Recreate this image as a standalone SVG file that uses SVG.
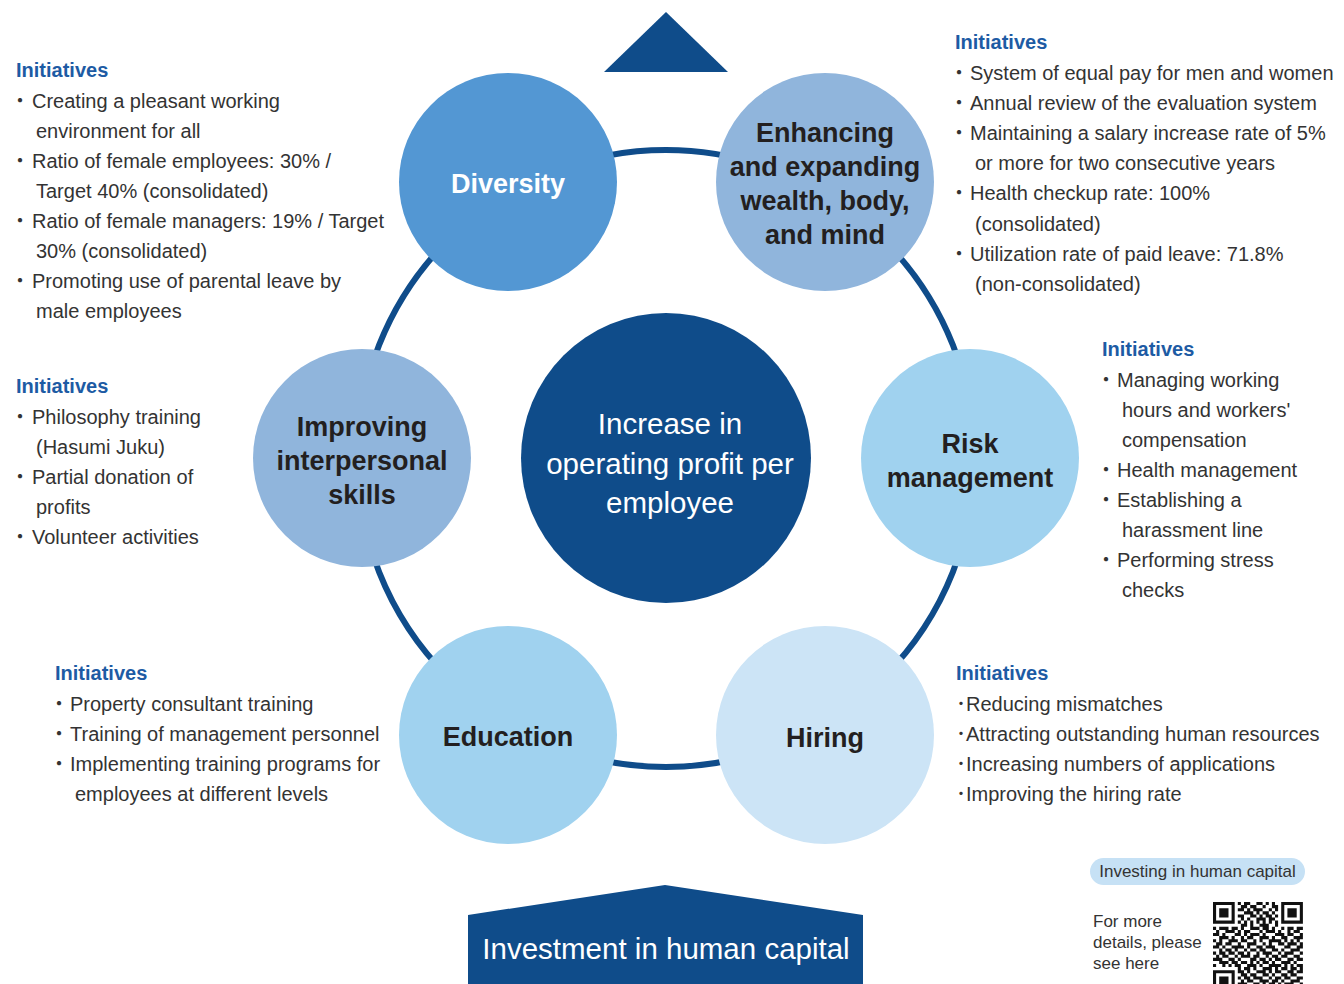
<svg xmlns="http://www.w3.org/2000/svg" width="1344" height="984" viewBox="0 0 1344 984">
<style>
.body{font-family:"Liberation Sans","Noto Sans CJK JP",Arial,sans-serif;font-size:20px;fill:#333333}
.head{font-family:"Liberation Sans",Arial,sans-serif;font-size:20px;font-weight:bold;fill:#1d5ba4}
.lbl{font-family:"Liberation Sans",Arial,sans-serif;font-size:27px;font-weight:bold;fill:#231f20;text-anchor:middle}
.ctr{font-family:"Liberation Sans",Arial,sans-serif;font-size:29.5px;fill:#ffffff;text-anchor:middle}
.small{font-family:"Liberation Sans",Arial,sans-serif;font-size:17px;fill:#333333}
</style>
<rect width="1344" height="984" fill="#ffffff"/>
<g id="connectors">
<circle cx="666" cy="458.5" r="308.5" fill="none" stroke="#0f4c8a" stroke-width="6"/>
</g>
<g id="top-arrow"><polygon points="666,12 604,72 728,72" fill="#0f4c8a"/></g>
<g id="center">
<circle cx="666" cy="458" r="145" fill="#0f4c8a"/>
<text class="ctr" x="670" y="434">Increase in</text>
<text class="ctr" x="670" y="474">operating profit per</text>
<text class="ctr" x="670" y="513">employee</text>
</g>
<g id="diversity">
<circle cx="508" cy="182" r="109" fill="#5397d3"/>
<text class="lbl" x="508" y="193" style="fill:#ffffff">Diversity</text>
</g>
<g id="enhancing">
<circle cx="825" cy="182" r="109" fill="#90b5dc"/>
<text class="lbl" x="825" y="142">Enhancing</text>
<text class="lbl" x="825" y="176">and expanding</text>
<text class="lbl" x="825" y="210">wealth, body,</text>
<text class="lbl" x="825" y="244">and mind</text>
</g>
<g id="risk">
<circle cx="970" cy="458" r="109" fill="#a0d2ef"/>
<text class="lbl" x="970" y="453">Risk</text>
<text class="lbl" x="970" y="487">management</text>
</g>
<g id="hiring">
<circle cx="825" cy="735" r="109" fill="#cce4f6"/>
<text class="lbl" x="825" y="747">Hiring</text>
</g>
<g id="education">
<circle cx="508" cy="735" r="109" fill="#a0d2ef"/>
<text class="lbl" x="508" y="746">Education</text>
</g>
<g id="improving">
<circle cx="362" cy="458" r="109" fill="#90b5dc"/>
<text class="lbl" x="362" y="436">Improving</text>
<text class="lbl" x="362" y="470">interpersonal</text>
<text class="lbl" x="362" y="504">skills</text>
</g>
<g id="initiatives-diversity">
<text class="head" x="16" y="77">Initiatives</text>
<text class="body" x="10" y="108">・<tspan x="32">Creating a pleasant working</tspan></text>
<text class="body" x="36" y="138">environment for all</text>
<text class="body" x="10" y="168">・<tspan x="32">Ratio of female employees: 30% /</tspan></text>
<text class="body" x="36" y="198">Target 40% (consolidated)</text>
<text class="body" x="10" y="228">・<tspan x="32">Ratio of female managers: 19% / Target</tspan></text>
<text class="body" x="36" y="258">30% (consolidated)</text>
<text class="body" x="10" y="288">・<tspan x="32">Promoting use of parental leave by</tspan></text>
<text class="body" x="36" y="318">male employees</text>
</g>
<g id="initiatives-improving">
<text class="head" x="16" y="393">Initiatives</text>
<text class="body" x="10" y="424">・<tspan x="32">Philosophy training</tspan></text>
<text class="body" x="36" y="454">(Hasumi Juku)</text>
<text class="body" x="10" y="484">・<tspan x="32">Partial donation of</tspan></text>
<text class="body" x="36" y="514">profits</text>
<text class="body" x="10" y="544">・<tspan x="32">Volunteer activities</tspan></text>
</g>
<g id="initiatives-education">
<text class="head" x="55" y="680">Initiatives</text>
<text class="body" x="49" y="711">・<tspan x="70">Property consultant training</tspan></text>
<text class="body" x="49" y="741">・<tspan x="70">Training of management personnel</tspan></text>
<text class="body" x="49" y="771">・<tspan x="70">Implementing training programs for</tspan></text>
<text class="body" x="75" y="801">employees at different levels</text>
</g>
<g id="initiatives-enhancing">
<text class="head" x="955" y="49">Initiatives</text>
<text class="body" x="949" y="80">・<tspan x="970">System of equal pay for men and women</tspan></text>
<text class="body" x="949" y="110">・<tspan x="970">Annual review of the evaluation system</tspan></text>
<text class="body" x="949" y="140">・<tspan x="970">Maintaining a salary increase rate of 5%</tspan></text>
<text class="body" x="975" y="170">or more for two consecutive years</text>
<text class="body" x="949" y="200">・<tspan x="970">Health checkup rate: 100%</tspan></text>
<text class="body" x="975" y="231">(consolidated)</text>
<text class="body" x="949" y="261">・<tspan x="970">Utilization rate of paid leave: 71.8%</tspan></text>
<text class="body" x="975" y="291">(non-consolidated)</text>
</g>
<g id="initiatives-risk">
<text class="head" x="1102" y="356">Initiatives</text>
<text class="body" x="1096" y="387">・<tspan x="1117">Managing working</tspan></text>
<text class="body" x="1122" y="417">hours and workers'</text>
<text class="body" x="1122" y="447">compensation</text>
<text class="body" x="1096" y="477">・<tspan x="1117">Health management</tspan></text>
<text class="body" x="1096" y="507">・<tspan x="1117">Establishing a</tspan></text>
<text class="body" x="1122" y="537">harassment line</text>
<text class="body" x="1096" y="567">・<tspan x="1117">Performing stress</tspan></text>
<text class="body" x="1122" y="597">checks</text>
</g>
<g id="initiatives-hiring">
<text class="head" x="956" y="680">Initiatives</text>
<text class="body" x="956" y="711">･Reducing mismatches</text>
<text class="body" x="956" y="741">･Attracting outstanding human resources</text>
<text class="body" x="956" y="771">･Increasing numbers of applications</text>
<text class="body" x="956" y="801">･Improving the hiring rate</text>
</g>
<g id="investment">
<polygon points="468,915 665,885 863,915 863,984 468,984" fill="#0f4c8a"/>
<text x="666" y="959" text-anchor="middle" style="font-family:'Liberation Sans',Arial,sans-serif;font-size:29.5px;fill:#ffffff">Investment in human capital</text>
</g>
<g id="qr-info">
<rect x="1090" y="858" width="215" height="27" rx="13.5" fill="#c6e1f5"/>
<text class="small" x="1197.5" y="877" text-anchor="middle">Investing in human capital</text>
<text class="small" x="1093" y="927">For more</text>
<text class="small" x="1093" y="948">details, please</text>
<text class="small" x="1093" y="969">see here</text>
<g transform="translate(1213,902) scale(3.1)" fill="#111111">
<path fill-rule="evenodd" d="M0 0h7v7h-7zM1 1v5h5v-5zM2 2h3v3h-3zM22 0h7v7h-7zM23 1v5h5v-5zM24 2h3v3h-3zM0 22h7v7h-7zM1 23v5h5v-5zM2 24h3v3h-3z"/>
<path d="M8 0h1v1h-1zM10 0h2v1h-2zM14 0h2v1h-2zM17 0h1v1h-1zM19 0h1v1h-1z
M9 1h2v1h-2zM12 1h2v1h-2zM16 1h1v1h-1zM19 1h2v1h-2z
M8 2h2v1h-2zM11 2h1v1h-1zM13 2h3v1h-3zM18 2h1v1h-1zM20 2h1v1h-1z
M10 3h3v1h-3zM14 3h1v1h-1zM16 3h2v1h-2zM19 3h1v1h-1z
M8 4h2v1h-2zM12 4h2v1h-2zM15 4h1v1h-1zM17 4h2v1h-2zM20 4h1v1h-1z
M9 5h1v1h-1zM11 5h1v1h-1zM14 5h3v1h-3zM18 5h2v1h-2z
M8 6h1v1h-1zM10 6h1v1h-1zM12 6h1v1h-1zM14 6h1v1h-1zM16 6h1v1h-1zM18 6h1v1h-1zM20 6h1v1h-1z
M9 7h2v1h-2zM12 7h1v1h-1zM15 7h3v1h-3zM20 7h1v1h-1z
M0 8h1v1h-1zM2 8h3v1h-3zM6 8h2v1h-2zM9 8h1v1h-1zM12 8h3v1h-3zM16 8h2v1h-2zM19 8h1v1h-1zM22 8h1v1h-1zM24 8h2v1h-2zM27 8h2v1h-2z
M1 9h1v1h-1zM4 9h3v1h-3zM8 9h1v1h-1zM10 9h2v1h-2zM15 9h1v1h-1zM17 9h3v1h-3zM21 9h1v1h-1zM24 9h1v1h-1zM26 9h2v1h-2z
M0 10h2v1h-2zM3 10h1v1h-1zM7 10h2v1h-2zM10 10h1v1h-1zM12 10h3v1h-3zM16 10h1v1h-1zM20 10h3v1h-3zM24 10h2v1h-2zM28 10h1v1h-1z
M2 11h3v1h-3zM6 11h1v1h-1zM9 11h1v1h-1zM11 11h2v1h-2zM15 11h3v1h-3zM19 11h1v1h-1zM22 11h2v1h-2zM26 11h3v1h-3z
M0 12h1v1h-1zM2 12h1v1h-1zM5 12h3v1h-3zM9 12h2v1h-2zM13 12h1v1h-1zM15 12h1v1h-1zM18 12h4v1h-4zM23 12h1v1h-1zM25 12h1v1h-1zM27 12h1v1h-1z
M1 13h2v1h-2zM4 13h2v1h-2zM8 13h1v1h-1zM11 13h3v1h-3zM16 13h1v1h-1zM18 13h1v1h-1zM21 13h2v1h-2zM24 13h3v1h-3zM28 13h1v1h-1z
M0 14h2v1h-2zM3 14h1v1h-1zM6 14h4v1h-4zM11 14h1v1h-1zM14 14h2v1h-2zM17 14h3v1h-3zM23 14h2v1h-2zM27 14h2v1h-2z
M2 15h1v1h-1zM4 15h2v1h-2zM7 15h1v1h-1zM10 15h1v1h-1zM12 15h2v1h-2zM15 15h2v1h-2zM19 15h2v1h-2zM22 15h1v1h-1zM25 15h3v1h-3z
M0 16h1v1h-1zM2 16h2v1h-2zM5 16h2v1h-2zM8 16h2v1h-2zM11 16h1v1h-1zM14 16h1v1h-1zM16 16h3v1h-3zM21 16h1v1h-1zM23 16h3v1h-3zM28 16h1v1h-1z
M1 17h1v1h-1zM3 17h2v1h-2zM7 17h1v1h-1zM9 17h3v1h-3zM13 17h2v1h-2zM17 17h1v1h-1zM19 17h2v1h-2zM22 17h2v1h-2zM26 17h2v1h-2z
M0 18h3v1h-3zM5 18h2v1h-2zM8 18h1v1h-1zM12 18h2v1h-2zM15 18h2v1h-2zM18 18h1v1h-1zM20 18h2v1h-2zM24 18h2v1h-2zM27 18h2v1h-2z
M2 19h3v1h-3zM6 19h2v1h-2zM9 19h2v1h-2zM12 19h1v1h-1zM14 19h1v1h-1zM16 19h2v1h-2zM19 19h1v1h-1zM22 19h3v1h-3zM26 19h1v1h-1z
M0 20h1v1h-1zM3 20h1v1h-1zM5 20h1v1h-1zM7 20h2v1h-2zM11 20h3v1h-3zM15 20h1v1h-1zM18 20h4v1h-4zM23 20h1v1h-1zM25 20h1v1h-1zM27 20h2v1h-2z
M8 21h1v1h-1zM10 21h2v1h-2zM13 21h1v1h-1zM16 21h3v1h-3zM20 21h1v1h-1zM22 21h2v1h-2zM25 21h2v1h-2zM28 21h1v1h-1z
M8 22h2v1h-2zM11 22h1v1h-1zM14 22h3v1h-3zM18 22h1v1h-1zM20 22h2v1h-2zM24 22h2v1h-2zM27 22h2v1h-2z
M9 23h2v1h-2zM12 23h2v1h-2zM16 23h2v1h-2zM19 23h1v1h-1zM22 23h2v1h-2zM25 23h2v1h-2z
M8 24h1v1h-1zM10 24h2v1h-2zM13 24h3v1h-3zM18 24h1v1h-1zM20 24h2v1h-2zM23 24h2v1h-2zM27 24h2v1h-2z
M9 25h1v1h-1zM11 25h2v1h-2zM15 25h3v1h-3zM19 25h2v1h-2zM22 25h1v1h-1zM25 25h3v1h-3z
M8 26h3v1h-3zM13 26h2v1h-2zM16 26h1v1h-1zM18 26h2v1h-2zM21 26h1v1h-1zM23 26h3v1h-3zM28 26h1v1h-1z"/>
</g>
</g>
</svg>
